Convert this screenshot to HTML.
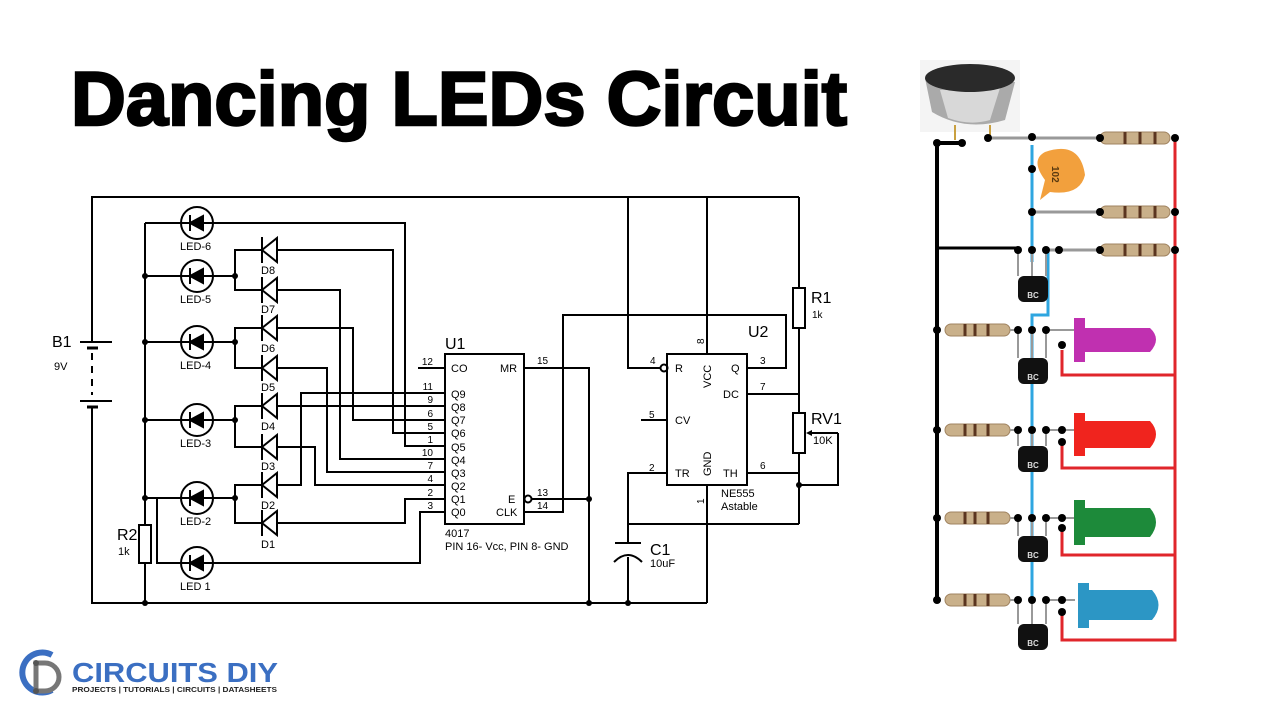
<!DOCTYPE html>
<html><head><meta charset="utf-8"><style>
html,body{margin:0;padding:0;background:#fff;width:1280px;height:720px;overflow:hidden}
svg{display:block}
text{font-family:"Liberation Sans",sans-serif}
</style></head><body>
<svg width="1280" height="720" viewBox="0 0 1280 720" xmlns="http://www.w3.org/2000/svg">
<rect width="1280" height="720" fill="#fff"/>
<text x="71" y="125" font-size="76" font-weight="bold" stroke="#000" stroke-width="2.5" textLength="776" lengthAdjust="spacingAndGlyphs">Dancing LEDs Circuit</text>

<g stroke="#000" stroke-width="2" fill="none">
<path d="M92,342 V197 H799"/>
<path d="M92,407 V603 H707"/>
<line x1="80" y1="342" x2="112" y2="342"/>
<line x1="87" y1="348" x2="98" y2="348" stroke-width="3"/>
<line x1="92" y1="353" x2="92" y2="395" stroke-dasharray="7,6"/>
<line x1="80" y1="401" x2="112" y2="401"/>
<line x1="87" y1="407" x2="98" y2="407" stroke-width="3"/>
<path d="M145,223 V525 M145,563 V603"/>
<rect x="139" y="525" width="12" height="38"/>
<path d="M145,498 H157 V563 H181"/>
<path d="M145,223 H181 M145,276 H181 M145,342 H181 M145,420 H181 M145,498 H181"/>
<path d="M213,276 H235 M213,342 H235 M213,420 H235 M213,498 H235"/>
<path d="M262,250 H235 V290 H262 M262,328 H235 V368 H262 M262,406 H235 V447 H262 M262,485 H235 V523 H262"/>
<path d="M213,223 H405 V446 H445"/>
<path d="M277,250 H393 V433 H445"/>
<path d="M277,290 H340 V459 H445"/>
<path d="M277,328 H353 V420 H445"/>
<path d="M277,368 H327 V472 H445"/>
<path d="M277,406 H445"/>
<path d="M277,447 H315 V485 H445"/>
<path d="M277,485 H301 V393 H445"/>
<path d="M277,523 H405 V499 H445"/>
<path d="M213,563 H420 V512 H445"/>
<path d="M418,368 H445"/>
<rect x="445" y="354" width="79" height="170"/>
<path d="M524,368 H589 V603"/>
<circle cx="528" cy="499" r="3.5"/>
<path d="M532,499 H589"/>
<path d="M524,512 H563 V315 H786 V368 H747"/>
<rect x="667" y="354" width="80" height="131"/>
<path d="M628,197 V368 H661"/>
<circle cx="664" cy="368" r="3.5"/>
<path d="M707,197 V354 M707,485 V603"/>
<path d="M641,420 H667"/>
<path d="M667,473 H628 V543 M628,557 V603"/>
<path d="M615,543 H641"/>
<path d="M614,562 Q628,548 642,562"/>
<path d="M628,524 H799"/>
<path d="M747,394 H799 M747,473 H799"/>
<path d="M799,197 V288 M799,328 V413 M799,453 V524"/>
<rect x="793" y="288" width="12" height="40"/>
<rect x="793" y="413" width="12" height="40"/>
<path d="M838,433 V485 H799 M838,433 H810"/>
</g>
<path d="M806,433 L812,430 L812,436 Z" fill="#000"/>
<g stroke="#000" stroke-width="2" fill="none">
<circle cx="197" cy="223" r="16"/><circle cx="197" cy="276" r="16"/><circle cx="197" cy="342" r="16"/>
<circle cx="197" cy="420" r="16"/><circle cx="197" cy="498" r="16"/><circle cx="197" cy="563" r="16"/>
<path d="M181,223 H213 M181,276 H213 M181,342 H213 M181,420 H213 M181,498 H213 M181,563 H213"/>
</g>
<g fill="#000" stroke="#000" stroke-width="2">
<path d="M190,223 L203,216 L203,230 Z M190,215 V231"/>
<path d="M190,276 L203,269 L203,283 Z M190,268 V284"/>
<path d="M190,342 L203,335 L203,349 Z M190,334 V350"/>
<path d="M190,420 L203,413 L203,427 Z M190,412 V428"/>
<path d="M190,498 L203,491 L203,505 Z M190,490 V506"/>
<path d="M190,563 L203,556 L203,570 Z M190,555 V571"/>
</g>
<g fill="#fff" stroke="#000" stroke-width="2">
<path d="M262,250 L277,238 L277,262 Z M262,237 V263"/>
<path d="M262,290 L277,278 L277,302 Z M262,277 V303"/>
<path d="M262,328 L277,316 L277,340 Z M262,315 V341"/>
<path d="M262,368 L277,356 L277,380 Z M262,355 V381"/>
<path d="M262,406 L277,394 L277,418 Z M262,393 V419"/>
<path d="M262,447 L277,435 L277,459 Z M262,434 V460"/>
<path d="M262,485 L277,473 L277,497 Z M262,472 V498"/>
<path d="M262,523 L277,511 L277,535 Z M262,510 V536"/>
</g>
<g fill="#000">
<circle cx="145" cy="276" r="3"/><circle cx="145" cy="342" r="3"/><circle cx="145" cy="420" r="3"/><circle cx="145" cy="498" r="3"/><circle cx="145" cy="603" r="3"/>
<circle cx="235" cy="276" r="3"/><circle cx="235" cy="342" r="3"/><circle cx="235" cy="420" r="3"/><circle cx="235" cy="498" r="3"/>
<circle cx="589" cy="499" r="3"/><circle cx="589" cy="603" r="3"/><circle cx="628" cy="603" r="3"/><circle cx="799" cy="485" r="3"/>
</g>
<g font-size="11" fill="#000">
<text x="180" y="250">LED-6</text><text x="180" y="303">LED-5</text><text x="180" y="369">LED-4</text>
<text x="180" y="447">LED-3</text><text x="180" y="525">LED-2</text><text x="180" y="590">LED 1</text>
<text x="261" y="274">D8</text><text x="261" y="313">D7</text><text x="261" y="352">D6</text><text x="261" y="391">D5</text>
<text x="261" y="430">D4</text><text x="261" y="470">D3</text><text x="261" y="509">D2</text><text x="261" y="548">D1</text>
<text x="118" y="555">1k</text><text x="54" y="370">9V</text>
</g>
<text x="52" y="347" font-size="16">B1</text>
<text x="117" y="540" font-size="16">R2</text>
<g font-size="10" fill="#000" text-anchor="end">
<text x="433" y="365">12</text><text x="433" y="390">11</text><text x="433" y="403">9</text><text x="433" y="417">6</text>
<text x="433" y="430">5</text><text x="433" y="443">1</text><text x="433" y="456">10</text><text x="433" y="469">7</text>
<text x="433" y="482">4</text><text x="433" y="496">2</text><text x="433" y="509">3</text>
</g>
<g font-size="11" fill="#000">
<text x="451" y="372">CO</text><text x="451" y="398">Q9</text><text x="451" y="411">Q8</text><text x="451" y="424">Q7</text>
<text x="451" y="437">Q6</text><text x="451" y="451">Q5</text><text x="451" y="464">Q4</text><text x="451" y="477">Q3</text>
<text x="451" y="490">Q2</text><text x="451" y="503">Q1</text><text x="451" y="516">Q0</text>
<text x="500" y="372">MR</text><text x="508" y="503">E</text><text x="496" y="516">CLK</text>
<text x="537" y="364" font-size="10">15</text><text x="537" y="496" font-size="10">13</text><text x="537" y="509" font-size="10">14</text>
<text x="445" y="537">4017</text><text x="445" y="550">PIN 16- Vcc, PIN 8- GND</text>
<text x="675" y="372">R</text><text x="731" y="372">Q</text><text x="723" y="398">DC</text><text x="675" y="424">CV</text>
<text x="675" y="477">TR</text><text x="723" y="477">TH</text>
<text x="650" y="364" font-size="10">4</text><text x="760" y="364" font-size="10">3</text><text x="760" y="390" font-size="10">7</text>
<text x="649" y="418" font-size="10">5</text><text x="649" y="471" font-size="10">2</text><text x="760" y="469" font-size="10">6</text>
<text x="721" y="497">NE555</text><text x="721" y="510">Astable</text>
<text x="812" y="318" font-size="10">1k</text><text x="813" y="444">10K</text><text x="650" y="567">10uF</text>
<text transform="translate(711,388) rotate(-90)">VCC</text>
<text transform="translate(711,476) rotate(-90)">GND</text>
<text transform="translate(704,344) rotate(-90)" font-size="10">8</text>
<text transform="translate(704,504) rotate(-90)" font-size="10">1</text>
</g>
<g font-size="16" fill="#000">
<text x="445" y="349">U1</text><text x="748" y="337">U2</text><text x="811" y="303">R1</text><text x="811" y="424">RV1</text><text x="650" y="555">C1</text>
</g>

<g>
<rect x="920" y="60" width="100" height="72" fill="#f4f4f4"/>
<path d="M925,78 L932,112 Q965,132 1005,120 L1015,82 Z" fill="#aaa"/>
<path d="M940,90 L948,118 Q970,126 990,120 L1000,88 Z" fill="#d8d8d8"/>
<ellipse cx="970" cy="78" rx="45" ry="14" fill="#2a2a2a"/>
<path d="M955,125 V140 M990,125 V140" stroke="#c9a040" stroke-width="2"/>
<g stroke="#999" stroke-width="3" fill="none">
<path d="M988,138 H1100 M1032,212 H1100 M1048,250 H1100"/>
</g>
<path d="M937,600 V143 H962" stroke="#000" stroke-width="4" fill="none"/>
<path d="M937,248 H1018" stroke="#000" stroke-width="3"/>
<path d="M1032,145 V262 M1048,252 V315 H1032 V600" stroke="#2ea6e0" stroke-width="3" fill="none"/>
<path d="M1175,138 V640 H1062 V615 M1175,555 H1062 V528 M1175,468 H1062 V445 M1175,375 H1062 V350" stroke="#e0262b" stroke-width="3" fill="none"/>
<path d="M1045,152 Q1080,140 1085,175 Q1080,196 1050,192 L1040,200 L1045,180 Q1030,160 1045,152 Z" fill="#f2a03d"/>
<text x="1052" y="178" font-size="10" font-weight="bold" fill="#5a3a10" transform="rotate(90 1058 172)">102</text>
<g fill="#c9b08a" stroke="#a08360">
<rect x="1100" y="132" width="70" height="12" rx="6"/><rect x="1100" y="206" width="70" height="12" rx="6"/><rect x="1100" y="244" width="70" height="12" rx="6"/>
<rect x="945" y="324" width="65" height="12" rx="6"/><rect x="945" y="424" width="65" height="12" rx="6"/><rect x="945" y="512" width="65" height="12" rx="6"/><rect x="945" y="594" width="65" height="12" rx="6"/>
</g>
<g stroke="#5a3520" stroke-width="3">
<path d="M1125,132 V144 M1140,132 V144 M1155,132 V144 M1125,206 V218 M1140,206 V218 M1155,206 V218 M1125,244 V256 M1140,244 V256 M1155,244 V256"/>
<path d="M965,324 V336 M975,324 V336 M988,324 V336 M965,424 V436 M975,424 V436 M988,424 V436 M965,512 V524 M975,512 V524 M988,512 V524 M965,594 V606 M975,594 V606 M988,594 V606"/>
</g>
<g fill="#111">
<rect x="1018" y="276" width="30" height="26" rx="6"/><rect x="1018" y="358" width="30" height="26" rx="6"/><rect x="1018" y="446" width="30" height="26" rx="6"/><rect x="1018" y="536" width="30" height="26" rx="6"/><rect x="1018" y="624" width="30" height="26" rx="6"/>
</g>
<g stroke="#999" stroke-width="2" fill="none">
<path d="M1018,252 V276 M1032,252 V276 M1046,252 V276"/>
<path d="M1018,330 V358 M1032,330 V358 M1046,330 V358 M1010,330 H1018 M1046,330 H1075"/>
<path d="M1018,430 V446 M1032,430 V446 M1046,430 V446 M1010,430 H1018 M1046,430 H1075"/>
<path d="M1018,518 V536 M1032,518 V536 M1046,518 V536 M1010,518 H1018 M1046,518 H1075"/>
<path d="M1018,600 V624 M1032,600 V624 M1046,600 V624 M1010,600 H1018 M1046,600 H1075"/>
</g>
<g font-size="8" font-weight="bold" fill="#ddd" text-anchor="middle">
<text x="1033" y="298">BC</text><text x="1033" y="380">BC</text><text x="1033" y="468">BC</text><text x="1033" y="558">BC</text><text x="1033" y="646">BC</text>
</g>
<path d="M1074,318 H1085 V328 H1150 Q1162,339 1150,352 H1085 V362 H1074 Z" fill="#c030b0"/>
<path d="M1074,413 H1085 V421 H1150 Q1162,434 1150,448 H1085 V456 H1074 Z" fill="#f0241e"/>
<path d="M1074,500 H1085 V508 H1150 Q1162,522 1150,537 H1085 V545 H1074 Z" fill="#1d8a3a"/>
<path d="M1078,583 H1089 V590 H1152 Q1165,605 1152,620 H1089 V628 H1078 Z" fill="#2c96c5"/>
<g fill="#000">
<circle cx="937" cy="143" r="4"/><circle cx="962" cy="143" r="4"/><circle cx="988" cy="138" r="4"/><circle cx="1100" cy="138" r="4"/><circle cx="1175" cy="138" r="4"/>
<circle cx="1032" cy="137" r="4"/><circle cx="1032" cy="169" r="4"/><circle cx="1032" cy="212" r="4"/><circle cx="1100" cy="212" r="4"/><circle cx="1175" cy="212" r="4"/>
<circle cx="1018" cy="250" r="4"/><circle cx="1032" cy="250" r="4"/><circle cx="1046" cy="250" r="4"/><circle cx="1059" cy="250" r="4"/><circle cx="1100" cy="250" r="4"/><circle cx="1175" cy="250" r="4"/>
<circle cx="937" cy="330" r="4"/><circle cx="1018" cy="330" r="4"/><circle cx="1032" cy="330" r="4"/><circle cx="1046" cy="330" r="4"/><circle cx="1062" cy="345" r="4"/>
<circle cx="937" cy="430" r="4"/><circle cx="1018" cy="430" r="4"/><circle cx="1032" cy="430" r="4"/><circle cx="1046" cy="430" r="4"/><circle cx="1062" cy="430" r="4"/><circle cx="1062" cy="442" r="4"/>
<circle cx="937" cy="518" r="4"/><circle cx="1018" cy="518" r="4"/><circle cx="1032" cy="518" r="4"/><circle cx="1046" cy="518" r="4"/><circle cx="1062" cy="518" r="4"/><circle cx="1062" cy="528" r="4"/>
<circle cx="937" cy="600" r="4"/><circle cx="1018" cy="600" r="4"/><circle cx="1032" cy="600" r="4"/><circle cx="1046" cy="600" r="4"/><circle cx="1062" cy="600" r="4"/><circle cx="1062" cy="612" r="4"/>
</g>
</g>

<g>
<path d="M52,655 A20,20 0 1,0 52,690" stroke="#3b6fc2" stroke-width="6" fill="none"/>
<path d="M36,663 H45 A14,14 0 0,1 45,691 H36 Z" stroke="#777" stroke-width="5" fill="none"/>
<circle cx="36" cy="663" r="3" fill="#555"/><circle cx="36" cy="691" r="3" fill="#555"/>
<text x="72" y="682" font-size="28" font-weight="bold" fill="#3b6fc2" textLength="206" lengthAdjust="spacingAndGlyphs">CIRCUITS DIY</text>
<text x="72" y="692" font-size="7" font-weight="bold" fill="#222" textLength="205" lengthAdjust="spacingAndGlyphs">PROJECTS | TUTORIALS | CIRCUITS | DATASHEETS</text>
</g>
</svg>
</body></html>
